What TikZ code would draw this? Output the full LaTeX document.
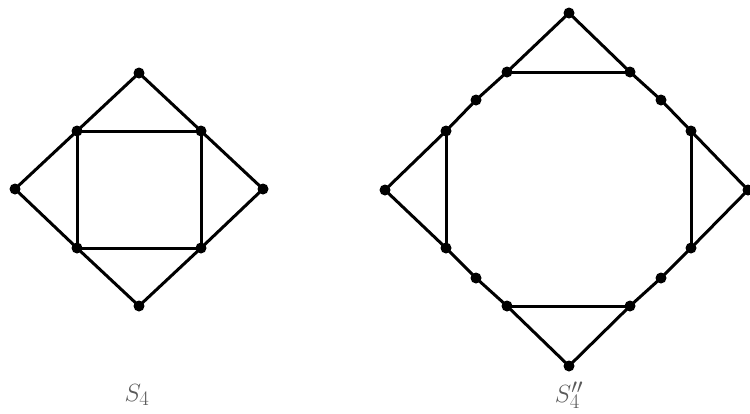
\documentclass[tikz,border=0pt]{standalone}
\begin{document}
\begin{tikzpicture}[x=1pt,y=-1pt,
  vtx/.style={circle,fill=black,inner sep=0pt,minimum size=11pt},
  edge/.style={line width=3pt,line join=round},
  lbl/.style={text=black!65,font=\fontsize{30}{36}\selectfont}]
\useasboundingbox (0,0) rectangle (750,413);
\clip (0,0) rectangle (750,413);
% S4
\node[vtx] (t) at (139,73) {};
\node[vtx] (l) at (15,189) {};
\node[vtx] (r) at (263,189) {};
\node[vtx] (b) at (139,306) {};
\node[vtx] (a1) at (77,131) {};
\node[vtx] (a2) at (201,131) {};
\node[vtx] (a3) at (201,248) {};
\node[vtx] (a4) at (77,248) {};
\draw[edge] (t.center) -- (a2.center) -- (r.center) -- (a3.center) -- (b.center) -- (a4.center) -- (l.center) -- (a1.center) -- cycle;
\draw[edge] (a1.center) -- (a2.center) -- (a3.center) -- (a4.center) -- cycle;
\node[lbl] (s4) at (137,395) {$S_4$};
% S4''
\node[vtx] (T) at (569,13) {};
\node[vtx] (L) at (385,190) {};
\node[vtx] (R) at (748,190) {};
\node[vtx] (B) at (569,366) {};
\node[vtx] (p1) at (507,72) {};
\node[vtx] (p2) at (630,72) {};
\node[vtx] (m1) at (661,100) {};
\node[vtx] (p3) at (691,131) {};
\node[vtx] (p4) at (691,248) {};
\node[vtx] (m2) at (661,278) {};
\node[vtx] (p5) at (630,306) {};
\node[vtx] (p6) at (507,306) {};
\node[vtx] (m3) at (476,278) {};
\node[vtx] (p7) at (446,248) {};
\node[vtx] (p8) at (446,131) {};
\node[vtx] (m4) at (476,100) {};
\draw[edge] (T.center) -- (p2.center) -- (m1.center) -- (p3.center) -- (R.center) -- (p4.center) -- (m2.center) -- (p5.center) -- (B.center) -- (p6.center) -- (m3.center) -- (p7.center) -- (L.center) -- (p8.center) -- (m4.center) -- (p1.center) -- cycle;
\draw[edge] (p1.center) -- (p2.center);
\draw[edge] (p3.center) -- (p4.center);
\draw[edge] (p5.center) -- (p6.center);
\draw[edge] (p7.center) -- (p8.center);
\node[lbl] (s4pp) at (569,395) {$S_4''$};
\end{tikzpicture}
\end{document}
